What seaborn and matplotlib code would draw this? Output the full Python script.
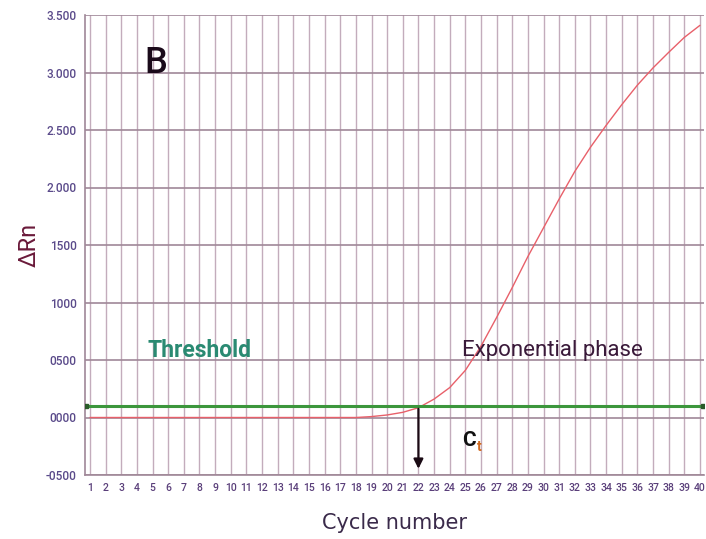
import numpy as np
import pandas as pd
import matplotlib
matplotlib.use("Agg")
import matplotlib.pyplot as plt
import seaborn as sns

cycles = list(range(1, 41))
delta_rn = [0, 0, 0, 0, 0, 0, 0, 0, 0, 0,
            0, 0, 0, 0, 0, 0, 0, 0, 8, 22,
            45, 85, 160, 260, 410, 620, 870, 1130, 1400, 1650,
            1900, 2140, 2350, 2540, 2720, 2890, 3040, 3175, 3305, 3410]
threshold = 100
ct_cycle = 22
y_ticks = [-500, 0, 500, 1000, 1500, 2000, 2500, 3000, 3500]
y_tick_labels = ["-0500", "0000", "0500", "1000", "1500", "2.000", "2.500", "3.000", "3.500"]

sns.set_style("white")
plt.rcParams['font.family'] = ['Roboto', 'DejaVu Sans']

fig = plt.figure(figsize=(7.06, 5.39), dpi=100)
ax = fig.add_axes([85/706, 64/539, 619/706, 460/539])

df = pd.DataFrame({"Cycle": cycles, "dRn": delta_rn})
sns.lineplot(data=df, x="Cycle", y="dRn", ax=ax, color="#e8606a", linewidth=1.0, zorder=3)

ax.set_xlim(0.68, 40.26)
ax.set_ylim(-500, 3500)

# grid
for c in cycles:
    ax.axvline(c, color="#c3acbc", linewidth=1.0, zorder=1)
for yv in y_ticks:
    ax.axhline(yv, color="#a08898", linewidth=1.2, zorder=1)

# threshold
ax.axhline(threshold, color="#3c963c", linewidth=2.2, zorder=4)
ax.plot([0.72, 40.2], [threshold, threshold], linestyle="none", marker="s", markersize=2.5, color="#2a5a2a", zorder=5)

# Ct arrow
ax.annotate("", xy=(ct_cycle, -470), xytext=(ct_cycle, threshold),
            arrowprops=dict(arrowstyle="-|>", color="#1a0a14", lw=1.6, mutation_scale=14),
            zorder=6)

ax.set_xticks(cycles)
ax.set_xticklabels([str(c) for c in cycles], fontsize=7.5, color="#5a3f7a", fontweight="medium")
ax.set_yticks(y_ticks)
ax.set_yticklabels(y_tick_labels, fontsize=8.5, color="#5a4a8a", fontweight="medium")
ax.tick_params(axis="both", length=0, pad=6)

for s in ["top", "right"]:
    ax.spines[s].set_visible(False)
for s in ["left", "bottom"]:
    ax.spines[s].set_color("#a08898")
    ax.spines[s].set_linewidth(1.2)

ax.set_xlabel("Cycle number", fontsize=15, color="#3a2a4a", labelpad=14,
              family=["DejaVu Sans"])
ax.set_ylabel("ΔRn", fontsize=17, color="#6a1a3a", labelpad=4)

ax.text(4.45, 3080, "B", fontsize=26, color="#1a0a1a", ha="left", va="center", fontweight="medium")
ax.text(4.7, 580, "Threshold", fontsize=16.5, color="#2a8a72", ha="left", va="center", fontweight="bold")
ax.text(24.8, 580, "Exponential phase", fontsize=16, color="#3a1a3a", ha="left", va="center")
ax.text(24.8, -200, "C", fontsize=15, color="#111111", ha="left", va="center", fontweight="bold")
ax.text(25.75, -260, "t", fontsize=10, color="#d06a20", ha="left", va="center", fontweight="bold")

fig.savefig("out.png", dpi=100)
